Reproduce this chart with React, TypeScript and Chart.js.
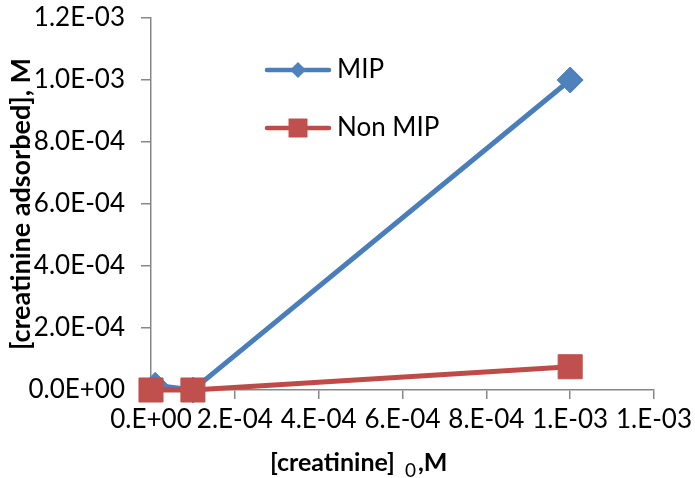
import React, { useEffect, useRef } from 'react';
import { Chart, registerables } from 'chart.js';

Chart.register(...registerables);

// ---- data ----
const seriesNames = ['MIP', 'Non MIP'];
const mipX = [1e-5, 1e-4, 1.0e-3];
const mipY = [1.5e-5, 0, 1.0e-3];
const nonMipX = [0, 1e-4, 1.0e-3];
const nonMipY = [0, 0, 7.5e-5];
const xTickValues = [0, 2e-4, 4e-4, 6e-4, 8e-4, 1.0e-3, 1.2e-3];
const xTickLabels = ['0.E+00', '2.E-04', '4.E-04', '6.E-04', '8.E-04', '1.E-03', '1.E-03'];
const yTickValues = [0, 2e-4, 4e-4, 6e-4, 8e-4, 1.0e-3, 1.2e-3];
const yTickLabels = ['0.0E+00', '2.0E-04', '4.0E-04', '6.0E-04', '8.0E-04', '1.0E-03', '1.2E-03'];
const xAxisTitleParts = ['[creatinine]', '0', ',M'];
const yAxisTitle = '[creatinine adsorbed], M';

const FONT = 'Lato';
const BLUE_LINE = '#4A7EBB';
const BLUE_FILL = '#4F81BD';
const RED_LINE = '#BE4B48';
const RED_FILL = '#C0504D';
const AXIS_GRAY = '#878787';

function drawMarker(ctx: CanvasRenderingContext2D, style: string, x: number, y: number, r: number, fill: string) {
  ctx.save();
  ctx.fillStyle = fill;
  ctx.beginPath();
  if (style === 'rectRot') {
    ctx.moveTo(x - r, y);
    ctx.lineTo(x, y - r);
    ctx.lineTo(x + r, y);
    ctx.lineTo(x, y + r);
  } else {
    ctx.rect(x - r, y - r, 2 * r, 2 * r);
  }
  ctx.closePath();
  ctx.fill();
  ctx.restore();
}

const legendPlugin = {
  id: 'customLegend',
  afterDraw(chart: any) {
    const ctx = chart.ctx as CanvasRenderingContext2D;
    const rows = [70, 128];
    chart.data.datasets.forEach((ds: any, i: number) => {
      const y = rows[i];
      ctx.save();
      ctx.strokeStyle = ds.borderColor;
      ctx.lineWidth = 4.5;
      ctx.lineCap = 'round';
      ctx.beginPath();
      ctx.moveTo(267, y);
      ctx.lineTo(329, y);
      ctx.stroke();
      if (ds.pointStyle === 'rectRot') drawMarker(ctx, 'rectRot', 298, y, 8, ds.pointBackgroundColor);
      else drawMarker(ctx, 'rect', 298, y, 9.5, ds.pointBackgroundColor);
      ctx.fillStyle = '#000';
      ctx.font = `26px ${FONT}`;
      ctx.textBaseline = 'middle';
      ctx.textAlign = 'left';
      ctx.fillText(ds.label, 337, y);
      ctx.restore();
    });
  },
};

const xTitlePlugin = {
  id: 'xTitle',
  afterDraw(chart: any) {
    const ctx = chart.ctx as CanvasRenderingContext2D;
    ctx.save();
    ctx.fillStyle = '#000';
    ctx.textBaseline = 'alphabetic';
    ctx.textAlign = 'left';
    let x = 270;
    const base = 471;
    ctx.font = `bold 25px ${FONT}`;
    ctx.fillText(xAxisTitleParts[0], x, base);
    x += ctx.measureText(xAxisTitleParts[0]).width + 10;
    ctx.font = `19px ${FONT}`;
    ctx.fillText(xAxisTitleParts[1], x, base + 6);
    x += ctx.measureText(xAxisTitleParts[1]).width + 2;
    ctx.font = `bold 25px ${FONT}`;
    ctx.fillText(xAxisTitleParts[2], x, base);
    ctx.restore();
  },
};

export default function App() {
  const ref = useRef<HTMLCanvasElement | null>(null);
  useEffect(() => {
    document.body.style.margin = '0';
    const canvas = ref.current!;
    const chart = new Chart(canvas, {
      type: 'line',
      data: {
        datasets: [
          {
            label: seriesNames[0],
            data: mipX.map((x, i) => ({ x, y: mipY[i] })),
            borderColor: BLUE_LINE,
            backgroundColor: BLUE_FILL,
            pointBackgroundColor: BLUE_FILL,
            pointBorderColor: BLUE_FILL,
            pointStyle: 'rectRot',
            pointRadius: 13,
            pointBorderWidth: 1,
            borderWidth: 5,
            tension: 0,
            clip: false,
            order: 1,
          },
          {
            label: seriesNames[1],
            data: nonMipX.map((x, i) => ({ x, y: nonMipY[i] })),
            borderColor: RED_LINE,
            backgroundColor: RED_FILL,
            pointBackgroundColor: RED_FILL,
            pointBorderColor: RED_FILL,
            pointStyle: 'rect',
            pointRadius: 17,
            pointBorderWidth: 1,
            borderWidth: 5,
            tension: 0,
            clip: false,
            order: 0,
          },
        ],
      },
      options: {
        responsive: false,
        animation: false,
        layout: { padding: { left: 0, top: 17, right: 41, bottom: 0 } },
        plugins: { legend: { display: false }, tooltip: { enabled: false }, title: { display: false } },
        scales: {
          x: {
            type: 'linear',
            min: 0,
            max: 1.2e-3,
            afterBuildTicks: (scale: any) => {
              scale.ticks = xTickValues.map((v) => ({ value: v }));
            },
            afterFit: (scale: any) => {
              scale.height = 88;
              scale.paddingLeft = 0;
              scale.paddingRight = 0;
            },
            grid: { drawOnChartArea: false, drawTicks: true, tickLength: 9, color: AXIS_GRAY, lineWidth: 1.5 },
            border: { display: true, color: AXIS_GRAY, width: 1.5 },
            ticks: {
              autoSkip: false,
              maxRotation: 0,
              minRotation: 0,
              padding: 5,
              color: '#000',
              font: { family: FONT, size: 26 },
              callback: (_v: any, i: number) => xTickLabels[i],
            },
          },
          y: {
            type: 'linear',
            min: 0,
            max: 1.2e-3,
            afterBuildTicks: (scale: any) => {
              scale.ticks = yTickValues.map((v) => ({ value: v }));
            },
            afterFit: (scale: any) => {
              scale.width = 151;
              scale.paddingTop = 0;
              scale.paddingBottom = 0;
            },
            grid: { drawOnChartArea: false, drawTicks: true, tickLength: 10, color: AXIS_GRAY, lineWidth: 1.5 },
            border: { display: true, color: AXIS_GRAY, width: 1.5 },
            ticks: {
              autoSkip: false,
              padding: 16,
              color: '#000',
              font: { family: FONT, size: 26 },
              callback: (_v: any, i: number) => yTickLabels[i],
            },
            title: {
              display: true,
              text: yAxisTitle,
              color: '#000',
              font: { family: FONT, size: 27, weight: 'bold' },
              padding: { top: 5, bottom: 0 },
            },
          },
        },
      },
      plugins: [legendPlugin, xTitlePlugin],
    } as any);
    return () => chart.destroy();
  }, []);
  return (
    <div style={{ width: 695, height: 478, background: '#fff' }}>
      <canvas ref={ref} width={695} height={478} style={{ display: 'block' }} />
    </div>
  );
}
